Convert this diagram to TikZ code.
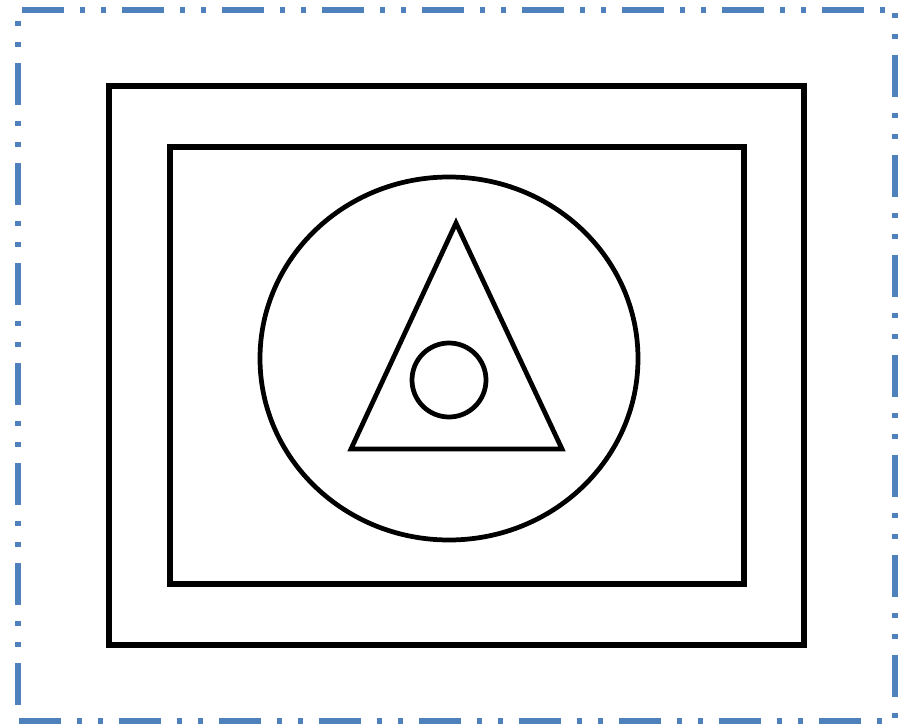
\documentclass[tikz,border=0pt]{standalone}
\usepackage{tikz}
\definecolor{frameblue}{RGB}{79,129,189}
\tikzset{
  frame/.style={line width=3pt, draw=frameblue, line cap=butt,
    dash pattern=on 0.84cm off 0.32cm on 0.1cm off 0.32cm on 0.1cm off 0.32cm},
  box/.style={line width=3pt, draw=black},
  figline/.style={line width=2.7pt, draw=black, line join=miter},
}

\begin{document}
\begin{tikzpicture}
\useasboundingbox (0,0) rectangle (18.10,14.54);
\draw[frame, dash phase=1.92cm] (0.36,14.34) -- (17.90,14.34);
\draw[frame, dash phase=1.52cm] (17.90,0.12) -- (17.90,14.34);
\draw[frame, dash phase=1.32cm] (17.90,0.12) -- (0.36,0.12);
\draw[frame, dash phase=0.94cm] (0.36,14.34) -- (0.36,0.12);
\draw[box] (2.18,1.64) rectangle (16.08,12.82);
\draw[box] (3.40,2.86) rectangle (14.88,11.60);
\draw[figline] (8.98,7.37) ellipse (3.78 and 3.63);
\draw[figline] (7.02,5.56) -- (11.24,5.56) -- (9.12,10.08) -- cycle;
\draw[figline] (8.98,6.94) circle (0.74);
\end{tikzpicture}
\end{document}
